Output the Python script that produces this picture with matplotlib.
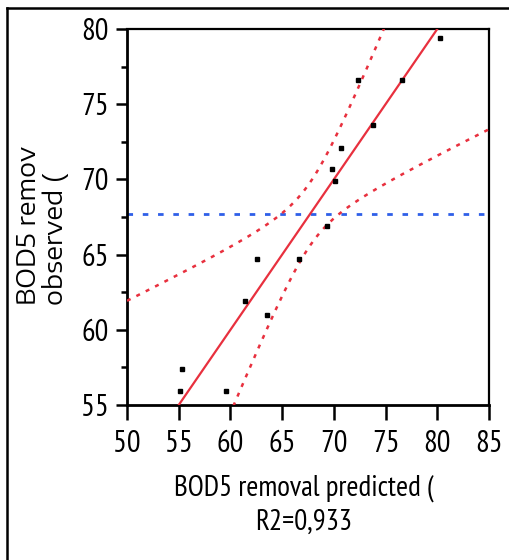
import numpy as np
import matplotlib
matplotlib.use("Agg")
import matplotlib.pyplot as plt
from matplotlib.lines import Line2D
from matplotlib.ticker import MultipleLocator
from matplotlib import font_manager

# ---- data ----
predicted = [55.1, 55.3, 59.6, 61.4, 62.6, 63.5, 66.6, 69.3, 69.8, 70.1, 70.7, 72.3, 73.8, 76.6, 80.3]
observed = [55.9, 57.4, 55.9, 61.9, 64.7, 61.0, 64.7, 66.9, 70.7, 69.9, 72.1, 76.6, 73.6, 76.6, 79.4]
mean_observed = 67.7
fit_slope = 1.0
fit_intercept = 0.0
band_a = 4.4       # confidence-curve constant term
band_b = 0.44      # confidence-curve slope term
x_ticks = [50, 55, 60, 65, 70, 75, 80, 85]
y_ticks = [55, 60, 65, 70, 75, 80]
x_label = "BOD5 removal predicted (\nR2=0,933"
y_label = "BOD5 remov\nobserved ("

names = {f.name for f in font_manager.fontManager.ttflist}
def pick(*cands):
    for c in cands:
        if c in names:
            return c
    return "DejaVu Sans"
narrow = pick("PT Sans Narrow", "Archivo Narrow", "Roboto Condensed", "Liberation Sans")
wide = pick("Encode Sans Expanded", "DejaVu Sans")

fig = plt.figure(figsize=(5.1, 5.6), dpi=100)
ax = fig.add_axes([127/510, 1-405/560, (489-127)/510, (405-29)/560])

red = "#e8303e"
blue = "#2f5fe8"

# mean line
ax.axhline(mean_observed, color=blue, lw=2.0, ls=(0, (2, 3.5)), zorder=2)

# fit line
xs = np.linspace(50, 85, 400)
ax.plot(xs, fit_slope*xs + fit_intercept, color=red, lw=1.6, zorder=3)

# confidence curves
d = xs - mean_observed
half = np.sqrt(band_a + band_b*d**2)
ax.plot(xs, fit_slope*xs + fit_intercept + half, color=red, lw=1.8, ls=(0, (1.6, 2.6)), zorder=3)
ax.plot(xs, fit_slope*xs + fit_intercept - half, color=red, lw=1.8, ls=(0, (1.6, 2.6)), zorder=3)

# points
ax.plot(predicted, observed, ls="none", marker="s", ms=3.2, color="black", mec="black", zorder=4)

ax.set_xlim(50, 85)
ax.set_ylim(55, 80)
ax.set_xticks(x_ticks)
ax.set_yticks(y_ticks)
ax.yaxis.set_minor_locator(MultipleLocator(2.5))
ax.tick_params(axis="x", which="major", length=11, width=1.8, pad=7, labelsize=22)
ax.tick_params(axis="y", which="major", length=8, width=1.8, pad=5, labelsize=22)
ax.tick_params(axis="y", which="minor", length=4, width=1.8)
for lab in ax.get_xticklabels() + ax.get_yticklabels():
    lab.set_fontfamily(narrow)
for s in ["left", "bottom"]:
    ax.spines[s].set_linewidth(2.0)
for s in ["top", "right"]:
    ax.spines[s].set_linewidth(1.6)

ax.set_xlabel(x_label, fontfamily=narrow, fontsize=21, linespacing=1.35)
ax.xaxis.set_label_coords((304-127)/362, (405-505)/376)
ax.xaxis.label.set_va("center")

ax.set_ylabel(y_label, fontfamily=wide, fontsize=18, linespacing=1.0, multialignment="left")
ax.yaxis.set_label_coords((42-127)/362, (405-225)/376)
ax.yaxis.label.set_va("center")
ax.yaxis.label.set_ha("center")

# outer frame
fig.add_artist(Line2D([7/510, 7/510], [0, 1-8/560], transform=fig.transFigure, color="black", lw=1.8))
fig.add_artist(Line2D([7/510, 1], [1-8/560, 1-8/560], transform=fig.transFigure, color="black", lw=1.8))

fig.savefig("out.png", dpi=100, facecolor="white")
